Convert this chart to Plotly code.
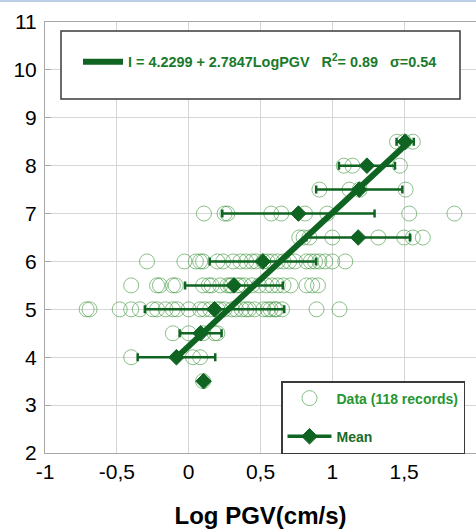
import plotly.graph_objects as go

# Individual records: log PGV (cm/s) grouped by observed intensity I
intensity_levels = [3.5, 4.0, 4.5, 5.0, 5.5, 6.0, 6.5, 7.0, 7.5, 8.0, 8.5]
logpgv_i35 = [0.10]
logpgv_i40 = [-0.40, 0.03, 0.08]
logpgv_i45 = [-0.11, 0.00, 0.10, 0.18, 0.20]
logpgv_i50 = [-0.71, -0.69, -0.48, -0.40, -0.34, -0.25, -0.22, -0.16, -0.11, -0.08,
              0.00, 0.08, 0.11, 0.15, 0.20, 0.22, 0.25, 0.30, 0.33, 0.37, 0.40,
              0.42, 0.46, 0.52, 0.55, 0.57, 0.60, 0.61, 0.65, 0.89, 1.05]
logpgv_i55 = [-0.40, -0.22, -0.20, -0.11, -0.09, 0.10, 0.14, 0.16, 0.22, 0.27,
              0.29, 0.30, 0.34, 0.36, 0.39, 0.44, 0.49, 0.54, 0.58, 0.62, 0.66,
              0.71, 0.82, 0.86, 0.90]
logpgv_i60 = [-0.29, -0.03, 0.05, 0.08, 0.10, 0.20, 0.24, 0.31, 0.36, 0.40, 0.44,
              0.47, 0.52, 0.55, 0.58, 0.62, 0.66, 0.70, 0.74, 0.82, 0.85, 0.88,
              0.91, 0.95, 1.00, 1.09]
logpgv_i65 = [0.77, 0.80, 0.84, 1.00, 1.32, 1.50, 1.56, 1.63]
logpgv_i70 = [0.106, 0.25, 0.27, 0.575, 0.645, 0.81, 0.965, 1.535, 1.85]
logpgv_i75 = [0.91, 1.12, 1.19, 1.51]
logpgv_i80 = [1.08, 1.14, 1.47]
logpgv_i85 = [1.45, 1.50, 1.56]
records_by_level = [logpgv_i35, logpgv_i40, logpgv_i45, logpgv_i50, logpgv_i55,
                    logpgv_i60, logpgv_i65, logpgv_i70, logpgv_i75, logpgv_i80,
                    logpgv_i85]

# Mean log PGV per intensity level and its standard deviation
mean_logpgv = [0.104, -0.085, 0.083, 0.18, 0.315, 0.516, 1.18, 0.764, 1.1875, 1.241, 1.507]
sd_logpgv = [0.0, 0.27, 0.146, 0.485, 0.34, 0.37, 0.36, 0.53, 0.30, 0.195, 0.06]

# Regression I = a + b * LogPGV, drawn over the span of the means
reg_a = 4.2299
reg_b = 2.7847
reg_r2 = 0.89
reg_sigma = 0.54
reg_span = [-0.08, 1.53]

x_tickvals = [-1, -0.5, 0, 0.5, 1, 1.5, 2]
x_ticktext = ["-1", "-0,5", "0", "0,5", "1", "1,5", "2"]
y_tickvals = [2, 3, 4, 5, 6, 7, 8, 9, 10, 11]

DARK = "#0f6422"
FONT = "Liberation Sans, Arial, sans-serif"

rec_x, rec_y = [], []
for level, vals in zip(intensity_levels, records_by_level):
    rec_x += vals
    rec_y += [level] * len(vals)

# gaps between means so only the legend sample shows a connecting line
mx, my, me = [], [], []
for level, m, s in zip(intensity_levels, mean_logpgv, sd_logpgv):
    mx += [m, None]
    my += [level, None]
    me += [s, None]

reg_y = [reg_a + reg_b * v for v in reg_span]

fig = go.Figure()

fig.add_trace(go.Scatter(
    x=rec_x, y=rec_y, mode="markers",
    name=f'<span style="color:#27962f">Data ({len(rec_x)} records)</span>',
    legendgroup="data",
    marker=dict(symbol="circle-open", size=15,
                color="rgba(60,150,60,0.6)", line=dict(width=1)),
    hoverinfo="skip",
))

fig.add_trace(go.Scatter(
    x=reg_span, y=reg_y, mode="lines",
    name=(f"I = {reg_a:.4f} + {reg_b:.4f}LogPGV\u00a0\u00a0\u00a0"
          f"R<sup>2</sup>= {reg_r2:.2f}\u00a0\u00a0\u00a0σ={reg_sigma:.2f}"),
    legend="legend2",
    line=dict(color=DARK, width=6),
))

fig.add_trace(go.Scatter(
    x=mx, y=my, mode="lines+markers", name="Mean",
    legendgroup="mean", connectgaps=False,
    line=dict(color=DARK, width=3.5),
    marker=dict(symbol="diamond", size=12, color=DARK,
                line=dict(color=DARK, width=1)),
    error_x=dict(type="data", array=me, visible=True,
                 color=DARK, thickness=2.5, width=4),
))

fig.update_layout(
    width=476, height=532,
    margin=dict(l=45, r=0, t=22, b=79),
    paper_bgcolor="white", plot_bgcolor="white",
    font=dict(family=FONT, color="black"),
    showlegend=True,
    legend=dict(
        x=(281 - 45) / 431, y=(453 - 381) / 431, xanchor="left", yanchor="top",
        bgcolor="white", bordercolor="#3a3a3a", borderwidth=1.5,
        font=dict(family=FONT, size=14, color="#1a6b28", weight="bold"),
        traceorder="grouped", tracegroupgap=17, itemwidth=44,
    ),
    legend2=dict(
        x=(78 - 45) / 431, y=(453 - 62) / 431, xanchor="left", yanchor="middle",
        bgcolor="rgba(0,0,0,0)", borderwidth=0, itemwidth=40,
        font=dict(family=FONT, size=14.4, color="#1a7a2c", weight="bold"),
    ),
    shapes=[
        dict(type="rect", xref="paper", yref="paper",
             x0=(61 - 45) / 431, x1=(460 - 45) / 431,
             y0=(453 - 99) / 431, y1=(453 - 31) / 431,
             fillcolor="white", line=dict(color="#3a3a3a", width=1.5),
             layer="above"),
        dict(type="rect", xref="paper", yref="paper",
             x0=-45 / 431, x1=1.0, y0=(453 - 2) / 431, y1=453 / 431,
             fillcolor="#bccfe4", line=dict(width=0), layer="above"),
    ],
)

fig.update_xaxes(
    range=[-1, 2], tickvals=x_tickvals, ticktext=x_ticktext,
    showgrid=True, gridcolor="#d6d6d6", gridwidth=1, zeroline=False,
    showline=True, linecolor="#a8a8a8", linewidth=1, mirror=True,
    ticks="", tickfont=dict(family=FONT, size=21, color="black"),
    title=dict(text="<b>Log PGV(cm/s)</b>", standoff=24,
               font=dict(family=FONT, size=24, color="black")),
)
fig.update_yaxes(
    range=[2, 11], tickvals=y_tickvals,
    showgrid=True, gridcolor="#d6d6d6", gridwidth=1, zeroline=False,
    showline=True, linecolor="#a8a8a8", linewidth=1,
    ticks="inside", ticklen=6, tickcolor="#a8a8a8",
    ticklabelstandoff=3,
    tickfont=dict(family=FONT, size=21, color="black"),
)

fig.write_html("out.html")
